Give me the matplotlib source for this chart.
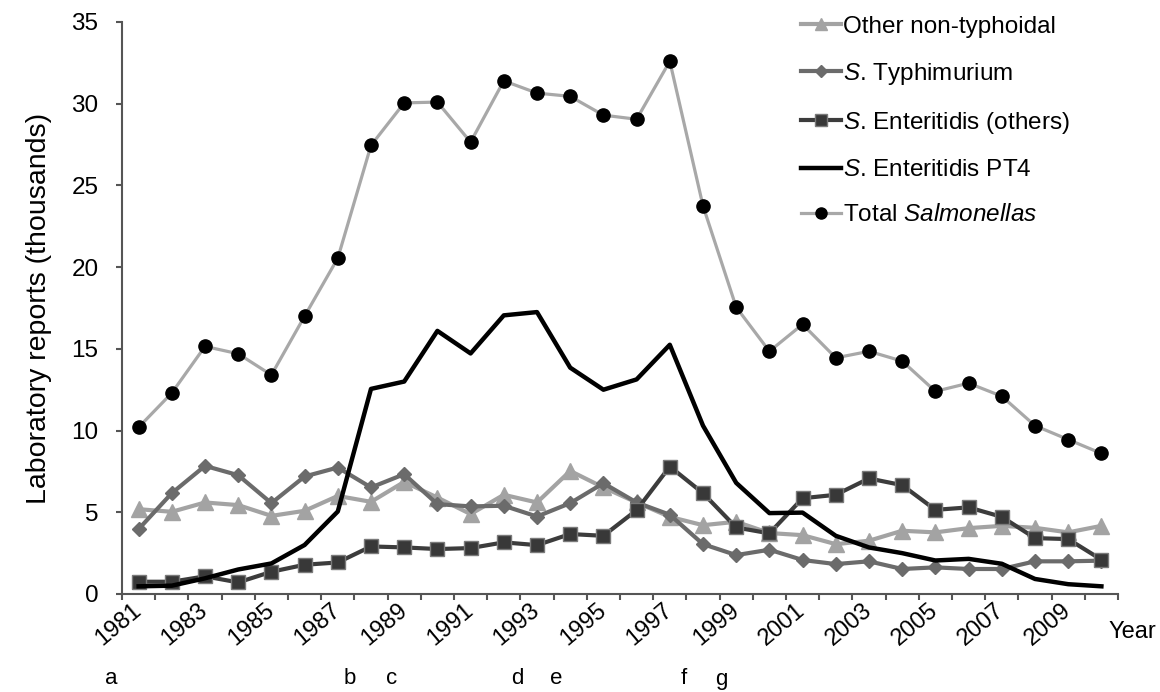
import matplotlib
matplotlib.use("Agg")
import matplotlib.pyplot as plt
import numpy as np
from matplotlib.lines import Line2D
import matplotlib.transforms as mtransforms

plt.rcParams['font.family'] = ['Liberation Sans', 'DejaVu Sans']
plt.rcParams['mathtext.fontset'] = 'custom'
plt.rcParams['mathtext.rm'] = 'Liberation Sans'
plt.rcParams['mathtext.it'] = 'Liberation Sans:italic'

years = list(range(1981, 2011))
year_labels = [str(y) for y in range(1981, 2011, 2)]

total = [10.2, 12.3, 15.15, 14.7, 13.4, 17.0, 20.55, 27.45, 30.05, 30.1,
         27.65, 31.4, 30.65, 30.45, 29.3, 29.05, 32.6, 23.75, 17.55, 14.85,
         16.5, 14.45, 14.85, 14.25, 12.4, 12.9, 12.1, 10.3, 9.45, 8.6]
pt4 = [0.47, 0.51, 0.96, 1.5, 1.87, 3.0, 5.05, 12.55, 13.0, 16.1,
       14.72, 17.05, 17.25, 13.85, 12.5, 13.13, 15.25, 10.3, 6.8, 4.95,
       4.98, 3.56, 2.85, 2.5, 2.05, 2.15, 1.85, 0.92, 0.6, 0.47]
other = [5.19, 5.03, 5.6, 5.44, 4.78, 5.09, 6.0, 5.64, 6.86, 5.9,
         4.89, 6.07, 5.6, 7.53, 6.52, 5.6, 4.72, 4.21, 4.42, 3.73,
         3.6, 3.05, 3.26, 3.87, 3.77, 4.03, 4.17, 4.05, 3.77, 4.17]
typhi = [3.97, 6.17, 7.84, 7.27, 5.56, 7.19, 7.74, 6.52, 7.33, 5.5,
         5.36, 5.4, 4.74, 5.56, 6.78, 5.6, 4.85, 3.05, 2.38, 2.71,
         2.08, 1.83, 2.0, 1.53, 1.63, 1.53, 1.53, 2.0, 2.0, 2.04]
ent_others = [0.75, 0.75, 1.08, 0.71, 1.36, 1.79, 1.93, 2.91, 2.85, 2.75,
              2.81, 3.16, 2.99, 3.67, 3.56, 5.13, 7.8, 6.17, 4.07, 3.71,
              5.86, 6.07, 7.07, 6.66, 5.15, 5.3, 4.72, 3.42, 3.36, 2.1]

event_letters = ['a', 'b', 'c', 'd', 'e', 'f', 'g']
event_pos = [-0.82, 6.37, 7.63, 11.4, 12.57, 16.43, 17.56]

labels = ['Other non-typhoidal',
          r'$\mathit{S}$. Typhimurium',
          r'$\mathit{S}$. Enteritidis (others)',
          r'$\mathit{S}$. Enteritidis PT4',
          r'Total $\mathit{Salmonellas}$']

fig = plt.figure(figsize=(11.6, 6.92), dpi=100)
ax = fig.add_axes([122/1160, 1-594/692, (1118-122)/1160, (594-22)/692])

x = np.arange(len(years))

c_other = '#a3a3a3'
c_typhi = '#6b6b6b'
c_ent = '#3c3c3c'
c_total_line = '#a8a8a8'

ax.plot(x, other, color=c_other, lw=3, marker='^', ms=11, mfc=c_other, mec=c_other, zorder=3)
ax.plot(x, typhi, color=c_typhi, lw=3, marker='D', ms=7.5, mfc=c_typhi, mec=c_typhi, zorder=4)
ax.plot(x, ent_others, color=c_ent, lw=3, marker='s', ms=9.5, mfc='#383838', mec='#7a7a7a', mew=1, zorder=5)
ax.plot(x, pt4, color='black', lw=3.2, zorder=6, solid_joinstyle='round')
ax.plot(x, total, color=c_total_line, lw=2.3, marker='o', ms=9.5, mfc='black', mec='black', zorder=7)

ax.set_xlim(-0.5, len(years) - 0.5)
ax.set_ylim(0, 35)
ax.set_yticks(range(0, 36, 5))

ax.set_xticks(np.arange(-0.5, len(years), 1.0))
ax.set_xticklabels([])
ax.set_xticks(np.arange(0, len(years), 2), minor=True)
ax.set_xticklabels(year_labels, minor=True, rotation=40, ha='right', va='center',
                   rotation_mode='anchor', fontsize=17)
ax.tick_params(axis='x', which='minor', length=0, pad=10)
ax.tick_params(axis='x', which='major', length=4, width=1.5, color='#555555', direction='out')
ax.tick_params(axis='y', length=4, width=1.5, color='#555555', labelsize=17.5, pad=13)

for s in ['top', 'right']:
    ax.spines[s].set_visible(False)
for s in ['left', 'bottom']:
    ax.spines[s].set_color('#555555')
    ax.spines[s].set_linewidth(1.5)

ax.set_ylabel('Laboratory reports (thousands)', fontsize=20.5, labelpad=14)

trans = mtransforms.blended_transform_factory(ax.transData, fig.transFigure)
for letter, pos in zip(event_letters, event_pos):
    ax.text(pos, 1 - 679/692, letter, transform=trans, ha='center', va='center', fontsize=16,
            clip_on=False)
fig.text(1156/1160, 1 - 632/692, 'Year', ha='right', va='center', fontsize=17)

handles = [
    Line2D([], [], color=c_other, lw=3, marker='^', ms=8, mfc=c_other, mec=c_other),
    Line2D([], [], color=c_typhi, lw=3, marker='D', ms=6, mfc=c_typhi, mec=c_typhi),
    Line2D([], [], color=c_ent, lw=3, marker='s', ms=8, mfc='#383838', mec='#7a7a7a'),
    Line2D([], [], color='black', lw=3.2),
    Line2D([], [], color=c_total_line, lw=2.3, marker='o', ms=8, mfc='black', mec='black'),
]
fig.legend(handles, labels, loc='upper left', bbox_to_anchor=(791/1160, 1 - 6/692),
           frameon=False, fontsize=17.5, handlelength=1.65, handletextpad=0.08,
           labelspacing=0.95, borderaxespad=0)

fig.savefig('out.png', dpi=100)
